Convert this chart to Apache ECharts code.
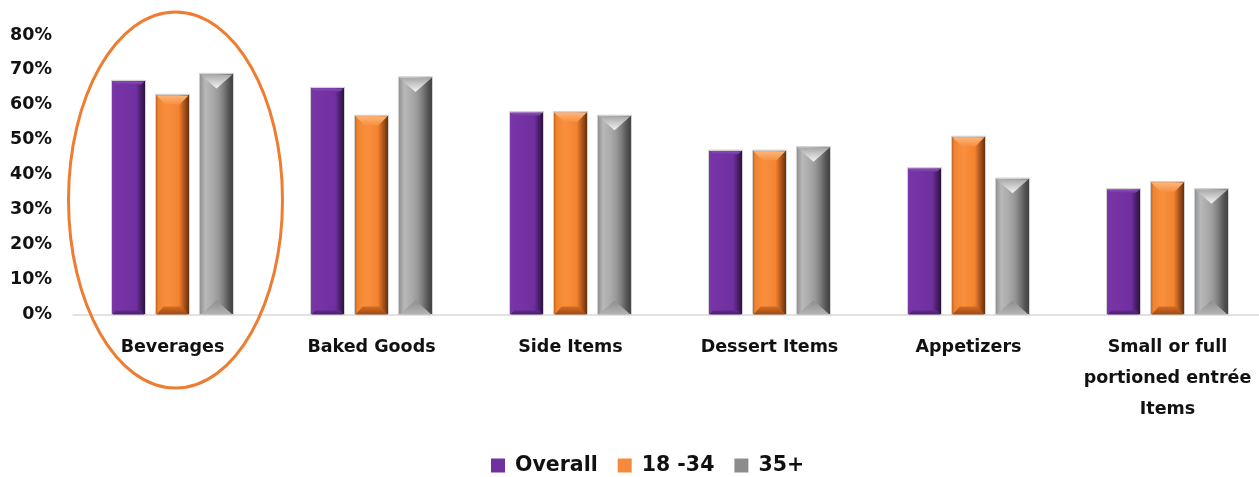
<!DOCTYPE html>
<html>
<head>
<meta charset="utf-8">
<script src="https://cdn.jsdelivr.net/npm/echarts@6/dist/echarts.min.js"></script>
<style>
html,body{margin:0;padding:0;background:#fff;}
#chart{width:1259px;height:477px;}
</style>
</head>
<body>
<div id="chart"></div>
<script>
var categories = ['Beverages', 'Baked Goods', 'Side Items', 'Dessert Items', 'Appetizers', 'Small or full\nportioned entrée\nItems'];
var seriesNames = ['Overall', '18 -34', '35+'];
var overall = [67, 65, 58, 47, 42, 36];
var age18to34 = [63, 57, 58, 47, 51, 38];
var age35plus = [69, 68, 57, 48, 39, 36];
var yTicks = [0, 10, 20, 30, 40, 50, 60, 70, 80];

var FONT = '"DejaVu Sans", sans-serif';

function lg(stops, vertical) {
  return new echarts.graphic.LinearGradient(0, 0, vertical ? 0 : 1, vertical ? 1 : 0,
    stops.map(function (s) { return { offset: s[0], color: s[1] }; }));
}

var styles = [
  { // purple
    main: '#7030A0',
    body: [[0, '#7B3AAA'], [0.1, '#7834A6'], [0.72, '#7030A0'], [0.84, '#4E2070'], [1, '#24102F']],
    topType: 'trap', topDepth: 4, top: [[0, '#8C4CBB'], [1, '#7434A3']],
    botDepth: 4, bot: [[0, '#62288C'], [1, '#4A1E6A']]
  },
  { // orange
    main: '#F68A3C',
    body: [[0, '#B45A1C'], [0.1, '#F0842F'], [0.35, '#F98F3E'], [0.68, '#F3832F'], [0.84, '#A9521A'], [1, '#552A0C']],
    topType: 'trap', topDepth: 10, top: [[0, '#FDB57A'], [1, '#F6903F']],
    botDepth: 8, bot: [[0, '#D46C24'], [1, '#9C4A14']]
  },
  { // gray
    main: '#8C8C8C',
    body: [[0, '#8A8A8A'], [0.18, '#B8B8B8'], [0.4, '#A9A9A9'], [0.55, '#999999'], [0.7, '#7C7C7C'], [0.85, '#565656'], [1, '#3A3A3A']],
    topType: 'tri', topDepth: 15, top: [[0, '#A8A8A8'], [1, '#F4F4F4']],
    botDepth: 14, bot: [[0, '#8E8E8E'], [1, '#B4B4B4']]
  }
];

function makeRender(idx) {
  var st = styles[idx];
  return function (params, api) {
    var cat = api.value(0), val = api.value(1);
    var base = api.coord([cat, 0]);
    var topP = api.coord([cat, val]);
    var band = api.size([1, 0])[0];
    var w = band * 0.171;
    var step = band * 0.221;
    var cx = base[0] + (idx - 1) * step;
    var x0 = cx - w / 2, x1 = cx + w / 2, y0 = topP[1], y1 = base[1];
    var d = st.topDepth, bd = st.botDepth;
    var children = [{
      type: 'rect',
      shape: { x: x0, y: y0, width: w, height: y1 - y0 },
      style: { fill: lg(st.body, false), stroke: '#D2D2D2', lineWidth: 1 }
    }];
    if (st.topType === 'trap') {
      children.push({
        type: 'polygon',
        shape: { points: [[x0 + 1, y0 + 1], [x1 - 1, y0 + 1], [x1 - 1 - d * 0.9, y0 + d], [x0 + 1 + d * 0.9, y0 + d]] },
        style: { fill: lg(st.top, true) }
      });
      children.push({
        type: 'polygon',
        shape: { points: [[x0 + 1, y1], [x1 - 1, y1], [x1 - 1 - bd * 0.9, y1 - bd], [x0 + 1 + bd * 0.9, y1 - bd]] },
        style: { fill: lg(st.bot, true) }
      });
    } else {
      children.push({
        type: 'polygon',
        shape: { points: [[x0 + 1, y0 + 1], [x1 - 1, y0 + 1], [cx, y0 + d]] },
        style: { fill: lg(st.top, true) }
      });
      children.push({
        type: 'polygon',
        shape: { points: [[x0 + 1, y1], [x1 - 1, y1], [cx, y1 - bd]] },
        style: { fill: lg(st.bot, true) }
      });
    }
    return { type: 'group', children: children };
  };
}

function toData(arr) { return arr.map(function (v, i) { return [i, v]; }); }
var allData = [overall, age18to34, age35plus];

var chart = echarts.init(document.getElementById('chart'), null, { renderer: 'canvas' });
var option = {
  animation: false,
  backgroundColor: '#ffffff',
  grid: { left: 73, right: -8, top: 35, bottom: 162.5, containLabel: false, outerBoundsMode: 'none' },
  legend: {
    left: 486, top: 450,
    itemWidth: 14, itemHeight: 14, itemGap: 20,
    icon: 'rect',
    data: seriesNames,
    textStyle: { fontFamily: FONT, fontWeight: 'bold', fontSize: 20.5, color: '#111', padding: [0, 0, 0, 5] }
  },
  xAxis: {
    type: 'category',
    data: categories,
    axisTick: { show: false },
    axisLine: { lineStyle: { color: '#D9D9D9', width: 1.5 } },
    axisLabel: {
      interval: 0, margin: 17,
      fontFamily: FONT, fontWeight: 'bold', fontSize: 17.5, color: '#111', lineHeight: 31,
      verticalAlign: 'top'
    }
  },
  yAxis: {
    type: 'value',
    min: 0, max: 80, interval: 10,
    axisLine: { show: false },
    axisTick: { show: false },
    splitLine: { show: false },
    axisLabel: {
      margin: 21,
      fontFamily: FONT, fontWeight: 'bold', fontSize: 17.5, color: '#111',
      formatter: function (v) { return yTicks.indexOf(v) >= 0 ? v + '%' : ''; }
    }
  },
  series: seriesNames.map(function (name, i) {
    return {
      name: name,
      type: 'custom',
      renderItem: makeRender(i),
      itemStyle: { color: styles[i].main },
      encode: { x: 0, y: 1 },
      data: toData(allData[i])
    };
  })
};
chart.setOption(option);

var cxPix = chart.convertToPixel({ xAxisIndex: 0 }, categories[0]);
chart.setOption({
  graphic: [{
    type: 'ellipse',
    shape: { cx: cxPix + 3, cy: 200, rx: 107, ry: 188 },
    style: { fill: 'none', stroke: '#EE7D31', lineWidth: 3 },
    z: 10
  }]
});
</script>
</body>
</html>
